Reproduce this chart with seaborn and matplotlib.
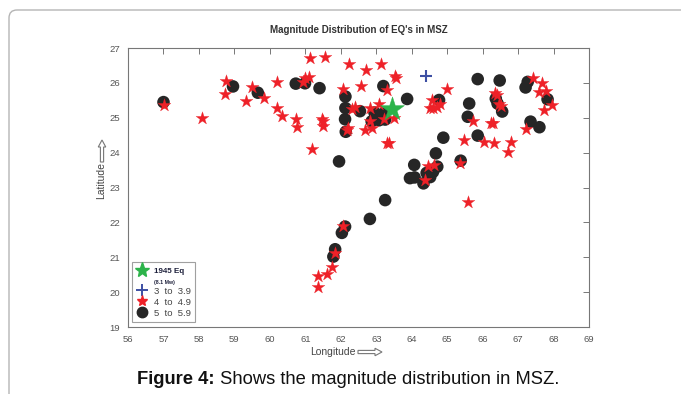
import matplotlib
matplotlib.use("Agg")
import matplotlib.pyplot as plt
from matplotlib.lines import Line2D
from matplotlib.patches import FancyBboxPatch, FancyArrow
from matplotlib.transforms import IdentityTransform
import seaborn as sns

# Epicentres of the 1945 main shock and of events by magnitude class
main_lon = [63.45]
main_lat = [25.25]

m3_lon = [64.40]
m3_lat = [26.21]

m4_lon = [57.02, 58.08, 58.76, 58.74, 59.33, 59.49, 59.84, 60.21, 60.20, 60.35,
          60.73, 60.76, 60.99, 61.11, 60.94, 61.13, 61.56, 61.19, 61.46, 61.49,
          61.51, 62.05, 62.24, 62.17, 62.20, 62.32, 62.40, 62.56, 62.70, 63.12,
          63.53, 63.55, 63.29, 63.09, 62.82, 62.82, 62.87, 62.67, 63.23, 63.50,
          63.29, 63.37, 65.00, 64.58, 64.52, 64.61, 64.71, 64.80, 65.74, 65.48,
          66.04, 66.32, 66.79, 66.72, 66.23, 66.30, 66.35, 66.39, 66.47, 66.52,
          67.41, 67.68, 67.60, 67.78, 67.73, 67.95, 67.21, 65.36, 64.47, 64.64,
          64.38, 65.60, 62.05, 61.84, 61.76, 61.60, 61.37, 61.35]
m4_lat = [25.37, 25.00, 26.06, 25.68, 25.48, 25.89, 25.56, 26.02, 25.29, 25.05,
          24.98, 24.74, 26.13, 26.16, 26.02, 26.72, 26.75, 24.10, 24.98, 24.90,
          24.76, 25.84, 26.54, 24.65, 24.70, 25.24, 25.32, 25.90, 26.37, 26.54,
          26.20, 26.13, 25.80, 25.41, 25.27, 24.91, 24.70, 24.65, 24.96, 25.00,
          24.27, 24.27, 25.82, 25.51, 25.27, 25.27, 25.32, 25.41, 24.92, 24.36,
          24.31, 24.27, 24.31, 24.01, 24.84, 24.84, 25.72, 25.65, 25.41, 25.35,
          26.13, 26.01, 25.75, 25.78, 25.22, 25.37, 24.67, 23.69, 23.62, 23.65,
          23.21, 22.58, 21.90, 21.11, 20.73, 20.52, 20.46, 20.16]

m5_lon = [57.00, 58.96, 59.66, 60.73, 60.99, 61.40, 62.13, 62.13, 62.12, 62.14,
          61.95, 62.54, 63.20, 63.87, 62.95, 63.10, 62.87, 63.08, 63.25, 63.20,
          64.77, 65.86, 66.48, 65.62, 65.58, 65.86, 64.89, 64.68, 65.38, 64.07,
          63.95, 64.08, 64.33, 64.42, 64.60, 64.72, 64.52, 66.37, 66.42, 66.55,
          67.27, 67.21, 67.83, 67.35, 67.60, 63.25, 62.82, 62.12, 62.03, 61.84,
          61.79]
m5_lat = [25.45, 25.90, 25.72, 25.98, 25.99, 25.85, 25.61, 25.28, 24.96, 24.60,
          23.75, 25.19, 25.91, 25.54, 25.15, 25.05, 24.90, 24.93, 24.95, 25.12,
          25.51, 26.11, 26.07, 25.41, 25.03, 24.49, 24.43, 23.98, 23.77, 23.65,
          23.27, 23.29, 23.12, 23.42, 23.45, 23.60, 23.30, 25.55, 25.41, 25.18,
          26.03, 25.87, 25.53, 24.89, 24.73, 22.64, 22.10, 21.88, 21.70, 21.23,
          21.02]

x_ticks = list(range(56, 70))
y_ticks = list(range(19, 28))
legend_labels = ["1945 Eq", "(8.1 Mw)", "3  to  3.9", "4  to  4.9", "5  to  5.9"]

sns.set_style("white")
plt.rcParams["font.family"] = ["Liberation Sans", "DejaVu Sans"]

W, H = 681, 394
fig = plt.figure(figsize=(W / 100, H / 100), dpi=100)
ax = fig.add_axes([0.188, 0.170, 0.677, 0.708])

c_black = "#262626"
c_red = "#ee2128"
c_blue = "#3d4fa3"
c_green = "#2cb34a"

sns.scatterplot(x=m5_lon, y=m5_lat, ax=ax, marker="o", s=82, color=c_black,
                edgecolor="none", zorder=2, legend=False)
sns.scatterplot(x=m4_lon, y=m4_lat, ax=ax, marker="*", s=95, color=c_red,
                edgecolor=c_red, linewidth=0.2, zorder=3, legend=False)
sns.scatterplot(x=m3_lon, y=m3_lat, ax=ax, marker="+", s=80, color=c_blue,
                linewidth=1.5, zorder=4, legend=False)
sns.scatterplot(x=main_lon, y=main_lat, ax=ax, marker="*", s=330, color=c_green,
                edgecolor=c_green, linewidth=0.3, zorder=5, legend=False)

ax.set_xlim(56, 69)
ax.set_ylim(19, 27)
ax.set_xticks(x_ticks)
ax.set_yticks(y_ticks)
ax.tick_params(axis="both", labelsize=6.8, labelcolor="#555555", color="#777777",
               length=4, width=0.7, direction="out", pad=1.5)
ax.tick_params(top=True, right=True, which="both")
for side in ["top", "right", "left", "bottom"]:
    ax.spines[side].set_color("#777777")
    ax.spines[side].set_linewidth(0.8)
for t in ax.xaxis.get_ticklines(minor=False)[1::2]:
    t.set_marker(3)  # inward ticks along top
for t in ax.yaxis.get_ticklines(minor=False)[1::2]:
    t.set_marker(0)

ax.set_xlabel("Longitude", fontsize=7.5, color="#444444")
ax.xaxis.set_label_coords(0.444, -0.070)
ax.set_ylabel("Latitude", fontsize=7.5, color="#444444")
ax.yaxis.set_label_coords(-0.048, 0.525)
ax.set_title("Magnitude Distribution of EQ's in MSZ", fontsize=7,
             fontweight="bold", color="#333333", pad=11)

# hollow direction arrows next to the axis labels (pixel coordinates)
arrow_kw = dict(width=3.2, head_width=7.5, head_length=7, fill=False,
                edgecolor="#777777", linewidth=0.8, length_includes_head=True,
                transform=IdentityTransform())
fig.add_artist(FancyArrow(358, H - 352, 24, 0, **arrow_kw))
fig.add_artist(FancyArrow(102, H - 162, 0, 22, **arrow_kw))

handles = [
    Line2D([], [], marker="*", linestyle="none", color=c_green, markersize=11),
    Line2D([], [], linestyle="none", marker=None),
    Line2D([], [], marker="+", linestyle="none", color=c_blue, markersize=8,
           markeredgewidth=1.4),
    Line2D([], [], marker="*", linestyle="none", color=c_red, markersize=8),
    Line2D([], [], marker="o", linestyle="none", color=c_black, markersize=7.5),
]
leg = ax.legend(handles, legend_labels, loc="lower left",
                bbox_to_anchor=(0.008, 0.018), fontsize=6.8, frameon=True,
                fancybox=False, edgecolor="#888888", borderpad=0.45,
                labelspacing=0.22, handlelength=1.3, handletextpad=0.6,
                borderaxespad=0)
leg.get_frame().set_linewidth(0.8)
texts = leg.get_texts()
texts[0].set_fontweight("bold")
texts[0].set_fontsize(5.8)
texts[0].set_color("#1c1f3a")
texts[1].set_fontsize(3.8)
texts[1].set_fontweight("bold")
texts[1].set_color("#1c1f3a")
for t in texts[2:]:
    t.set_color("#444444")

# caption: bold lead-in followed by regular text, centred as one line
cap_y = 0.036
lead = fig.text(0, cap_y, "Figure 4:", fontsize=13.2, fontweight="bold",
                ha="left", va="center", color="#111111")
rest = fig.text(0, cap_y, " Shows the magnitude distribution in MSZ.", fontsize=13.2,
                ha="left", va="center", color="#111111")
fig.canvas.draw()
r = fig.canvas.get_renderer()
w1 = lead.get_window_extent(r).width
w2 = rest.get_window_extent(r).width
start = 348 - (w1 + w2) / 2
lead.set_x(start / W)
rest.set_x((start + w1) / W)

frame = FancyBboxPatch((9, -200), 1200, 584, boxstyle="round,pad=0,rounding_size=8",
                       transform=IdentityTransform(), facecolor="none",
                       edgecolor="#b5b5b5", linewidth=1.0)
fig.add_artist(frame)

fig.savefig("out.png", dpi=100)
